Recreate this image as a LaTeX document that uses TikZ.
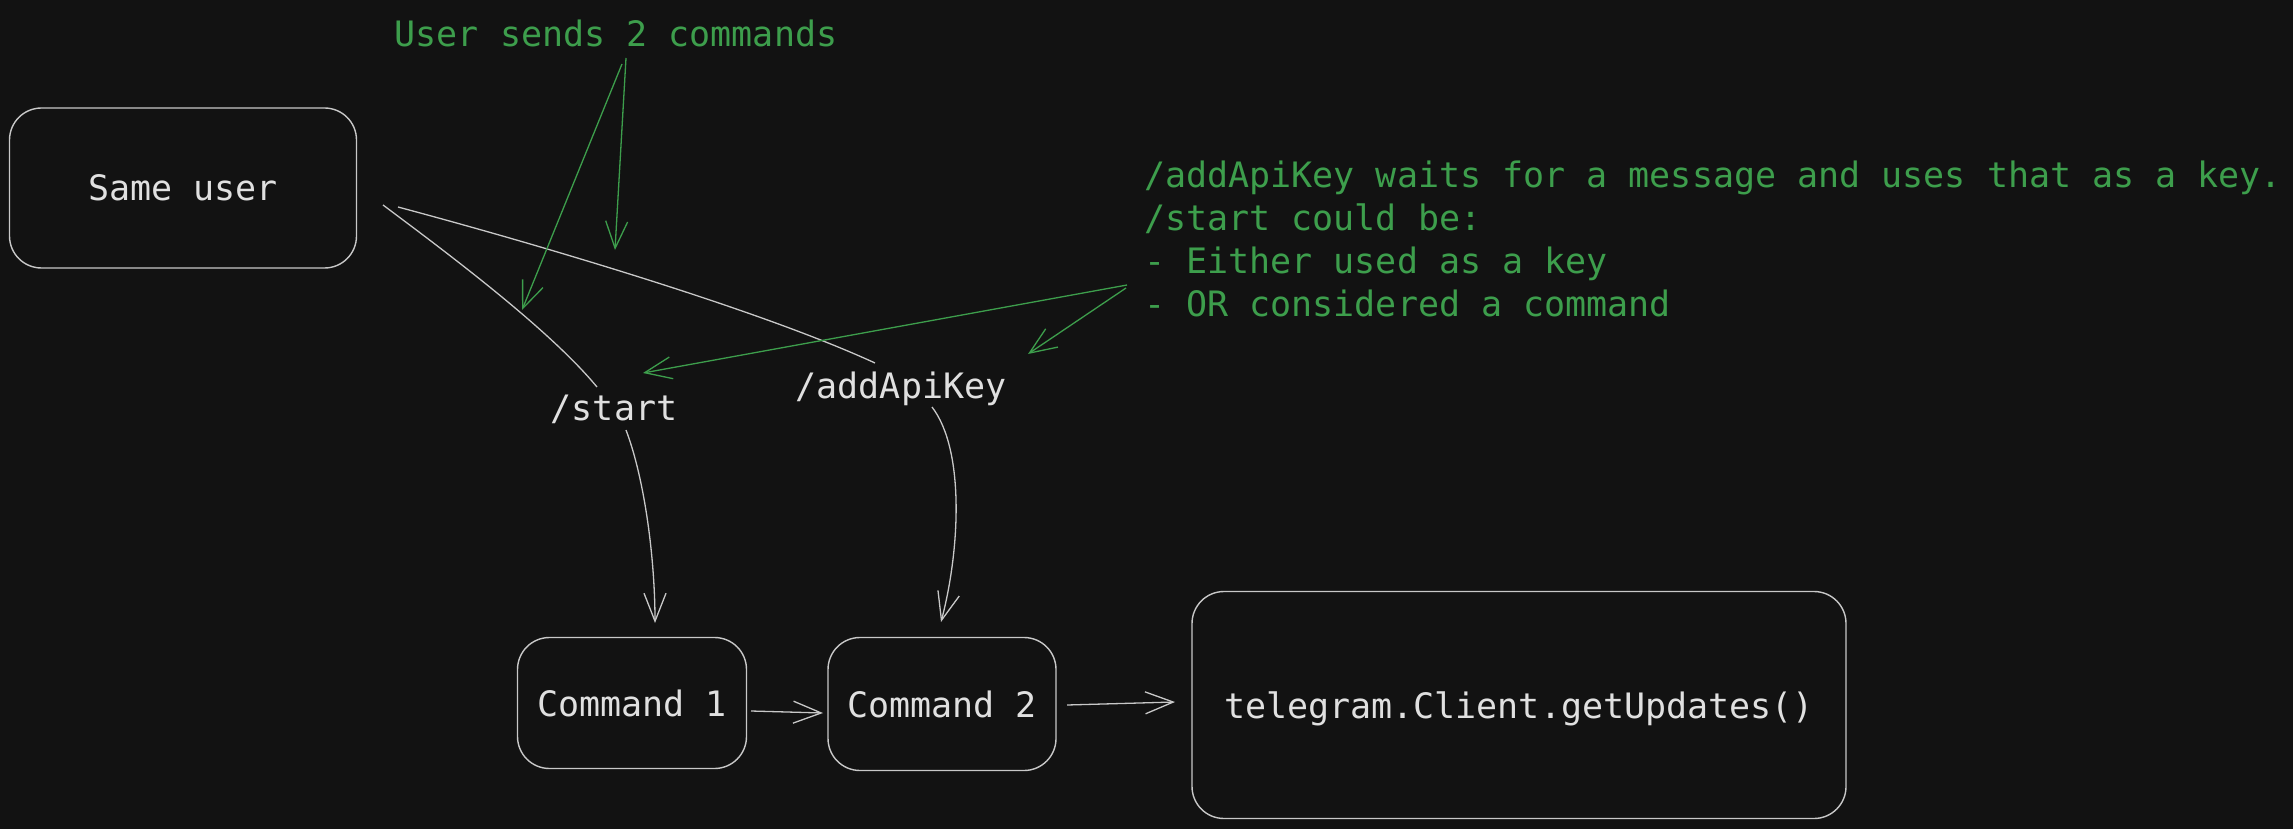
\documentclass[tikz,border=0pt]{standalone}
\usepackage{fontspec}
\setmonofont{DejaVu Sans Mono}
\usetikzlibrary{arrows.meta}
\definecolor{bg}{HTML}{121212}
\definecolor{fg}{HTML}{E0E0E0}
\definecolor{ln}{HTML}{C8C8C8}
\definecolor{grn}{HTML}{3D9E4C}
\begin{document}
\begin{tikzpicture}[x=1pt,y=-1pt,
  txt/.style={font=\ttfamily\fontsize{35}{43}\selectfont, text=fg},
  gtxt/.style={font=\ttfamily\fontsize{35}{43}\selectfont, text=grn},
  box/.style={draw=ln, line width=1.4pt, rounded corners=32pt, txt, text depth=0pt},
  conn/.style={draw=ln, line width=1.3pt},
  arr/.style={conn, -{Straight Barb[length=28pt,width=22pt]}},
  garr/.style={draw=grn, line width=1.3pt, -{Straight Barb[length=27pt,width=22pt]}},
]
\fill[bg] (0,0) rectangle (2293,829);
\useasboundingbox (0,0) rectangle (2293,829);

% nodes
\node[box, minimum width=347pt, minimum height=160pt] (user) at (183,188) {Same user};
\node[gtxt] (title) at (616,33) {User sends 2 commands};
\node[txt] (start) at (614,409) {/start};
\node[txt] (addkey) at (901,389) {/addApiKey};
\node[box, minimum width=229pt, minimum height=131pt] (c1) at (632,703) {Command 1};
\node[box, minimum width=228pt, minimum height=133pt] (c2) at (942,704) {Command 2};
\node[box, minimum width=654pt, minimum height=227pt] (tg) at (1519,705) {telegram.Client.getUpdates()};
\node[gtxt, align=left, anchor=north west, inner sep=0pt] (note) at (1144,161)
  {/addApiKey waits for a message and uses that as a key.\\/start could be:\\- Either used as a key\\- OR considered a command};

% free ends of connectors
\coordinate (u1) at (383,205);
\coordinate (s1) at (597,387);
\coordinate (u2) at (398,207);
\coordinate (a1) at (875,363);
\coordinate (s2) at (626,430);
\coordinate (c1t) at (655,623);
\coordinate (a2) at (932,407);
\coordinate (c2t) at (941,622);
\coordinate (c1r) at (751,711);
\coordinate (c2l) at (823,713);
\coordinate (c2r) at (1067,705);
\coordinate (tgl) at (1175,702);
\coordinate (t1) at (622,64);
\coordinate (t1e) at (522,310);
\coordinate (t2) at (626,58);
\coordinate (t2e) at (615,250);
\coordinate (n1) at (1127,285);
\coordinate (n1e) at (643,373);
\coordinate (n2) at (1126,288);
\coordinate (n2e) at (1028,354);

% gray connectors
\draw[conn] (u1) .. controls (450,255) and (550,330) .. (s1);
\draw[conn] (u2) .. controls (540,245) and (760,310) .. (a1);
\draw[arr] (s2) .. controls (645,480) and (655,560) .. (c1t);
\draw[arr] (a2) .. controls (965,450) and (960,550) .. (c2t);
\draw[arr] (c1r) -- (c2l);
\draw[arr] (c2r) -- (tgl);

% green annotation arrows
\draw[garr] (t1) -- (t1e);
\draw[garr] (t2) -- (t2e);
\draw[garr] (n1) -- (n1e);
\draw[garr] (n2) -- (n2e);
\end{tikzpicture}
\end{document}
